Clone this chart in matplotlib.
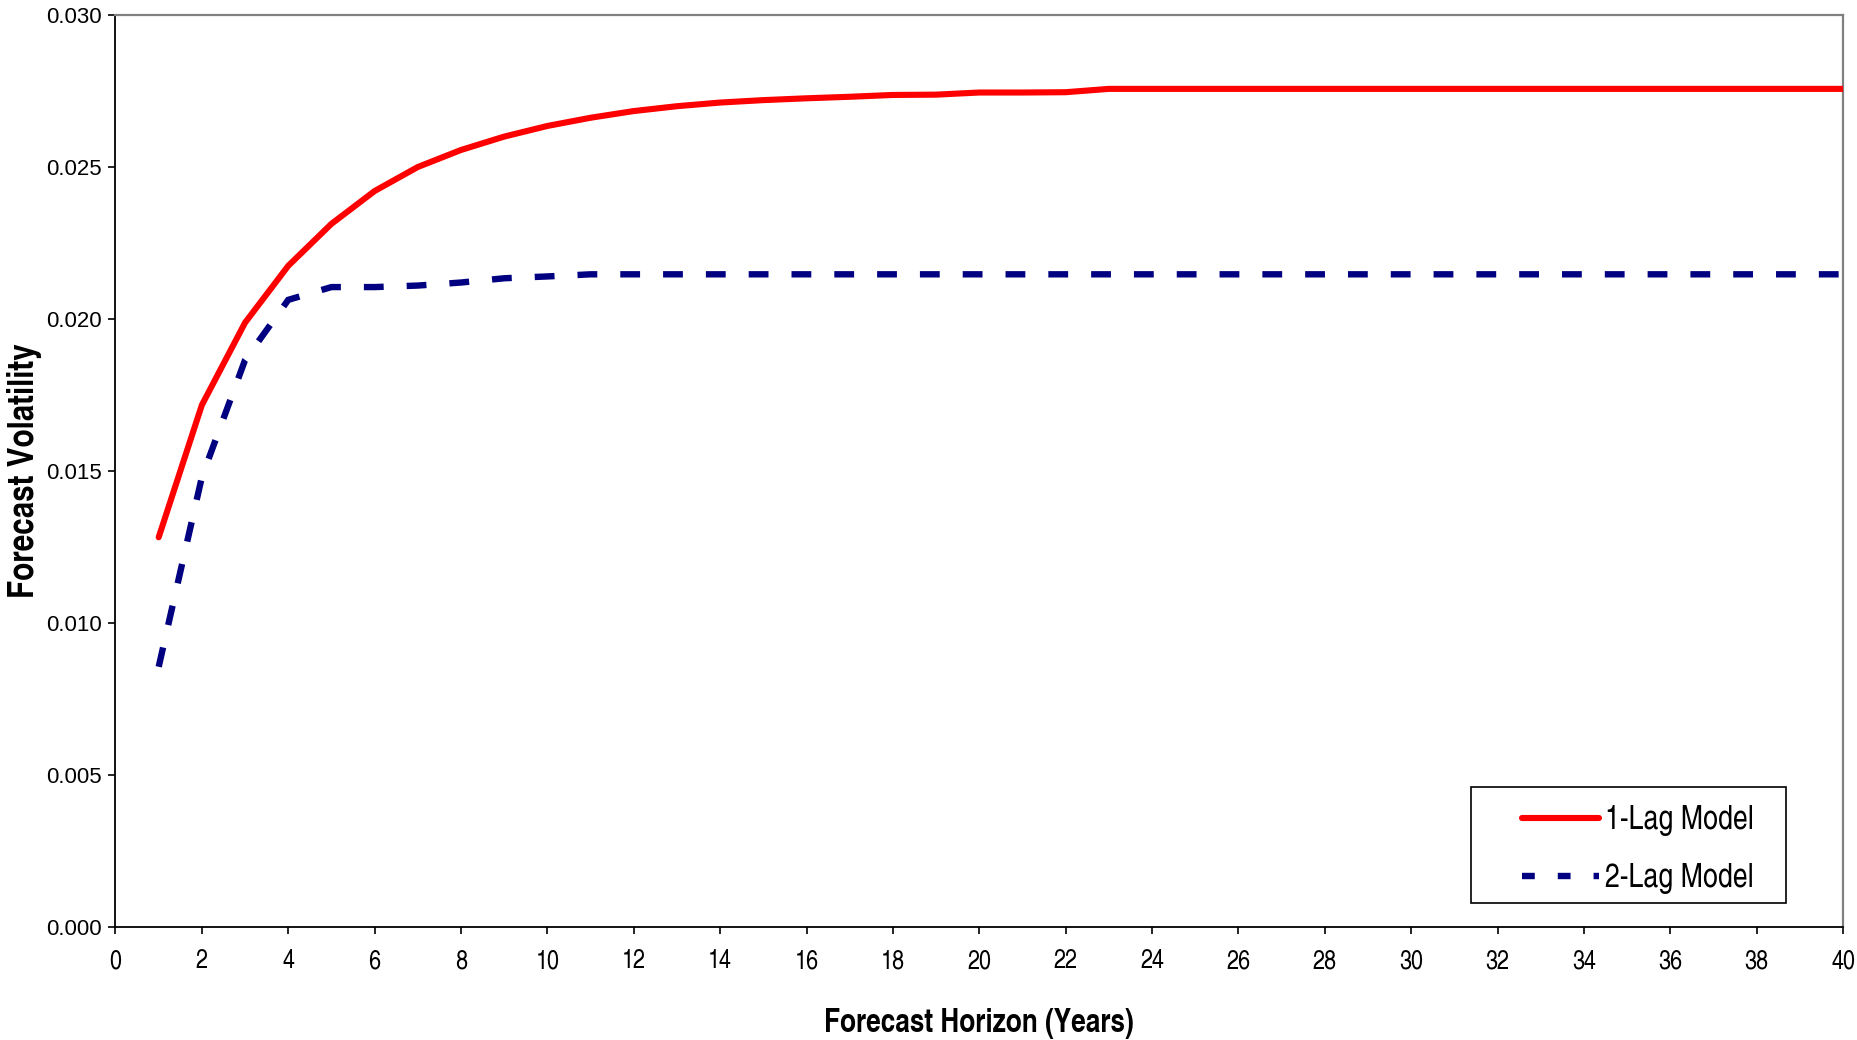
import matplotlib
matplotlib.use("Agg")
import matplotlib.pyplot as plt
from matplotlib.lines import Line2D
from matplotlib.patches import Rectangle
from matplotlib.ticker import FormatStrFormatter, MultipleLocator

years = list(range(1, 41))
lag1 = [0.01282, 0.01717, 0.01988, 0.02175, 0.02313, 0.02421, 0.02500, 0.02556,
        0.02600, 0.02635, 0.02662, 0.02684, 0.02700, 0.02712, 0.02720, 0.02726,
        0.02731, 0.02737, 0.02738, 0.02745, 0.02745, 0.02746, 0.02757, 0.02757,
        0.02757, 0.02757, 0.02757, 0.02757, 0.02757, 0.02757, 0.02757, 0.02757,
        0.02757, 0.02757, 0.02757, 0.02757, 0.02757, 0.02757, 0.02757, 0.02757]
lag2 = [0.00856, 0.01480, 0.01865, 0.02063, 0.02105, 0.02105, 0.02110, 0.02120,
        0.02134, 0.02140, 0.02147, 0.02147, 0.02147, 0.02147, 0.02147, 0.02147,
        0.02147, 0.02147, 0.02147, 0.02147, 0.02147, 0.02147, 0.02147, 0.02147,
        0.02147, 0.02147, 0.02147, 0.02147, 0.02147, 0.02147, 0.02147, 0.02147,
        0.02147, 0.02147, 0.02147, 0.02147, 0.02147, 0.02147, 0.02147, 0.02147]
series_labels = ["1-Lag Model", "2-Lag Model"]
x_label = "Forecast Horizon (Years)"
y_label = "Forecast Volatility"

NARROW = ["TeX Gyre Heros Cn", "Liberation Sans", "DejaVu Sans"]
WIDE = ["Liberation Sans", "DejaVu Sans"]

fig = plt.figure(figsize=(18.58, 10.40), dpi=100)
ax = fig.add_axes([115.5 / 1858, 1 - 927 / 1040, (1843 - 115.5) / 1858, (927 - 15) / 1040])

ax.plot(years, lag1, color="#FF0000", lw=4.4, solid_joinstyle="round",
        solid_capstyle="round", zorder=3)
ax.plot(years, lag2, color="#000080", lw=4.6, dashes=[3.1, 3.6],
        dash_capstyle="butt", dash_joinstyle="miter", zorder=3)

ax.set_xlim(0, 40)
ax.set_ylim(0, 0.030)
ax.xaxis.set_major_locator(MultipleLocator(2))
ax.yaxis.set_major_locator(MultipleLocator(0.005))
ax.yaxis.set_major_formatter(FormatStrFormatter("%.3f"))

for s in ["top", "right"]:
    ax.spines[s].set_color("#808080")
    ax.spines[s].set_linewidth(1.6)
for s in ["left", "bottom"]:
    ax.spines[s].set_color("black")
    ax.spines[s].set_linewidth(1.3)

ax.tick_params(axis="x", direction="out", length=5, width=1.2, pad=11,
               labelsize=19, colors="black")
ax.tick_params(axis="y", direction="out", length=5, width=1.2, pad=5,
               labelsize=16, colors="black")
for lab in ax.get_xticklabels():
    lab.set_family(NARROW)
for lab in ax.get_yticklabels():
    lab.set_family(WIDE)

ax.set_xlabel(x_label, family=NARROW, fontsize=23, fontweight="bold", labelpad=25)
ax.set_ylabel(y_label, family=NARROW, fontsize=26, fontweight="bold", labelpad=3)

# legend frame
ax.add_patch(Rectangle((0.7845, 0.026), 0.1825, 0.1272, transform=ax.transAxes,
                       facecolor="white", edgecolor="black", lw=1.2, zorder=5))
handles = [Line2D([], [], color="#FF0000", lw=4.4, solid_capstyle="round"),
           Line2D([], [], color="#000080", lw=4.6, dashes=[2.0, 3.6],
                  dash_capstyle="butt")]
leg = ax.legend(handles, series_labels, loc="center left",
                bbox_to_anchor=(0.8142, 0.0847), frameon=False,
                prop={"family": NARROW, "size": 23.5}, handlelength=2.35,
                handletextpad=0.2, labelspacing=0.82, borderpad=0,
                borderaxespad=0)
leg.set_zorder(6)

fig.savefig("out.png", dpi=100, facecolor="white")
